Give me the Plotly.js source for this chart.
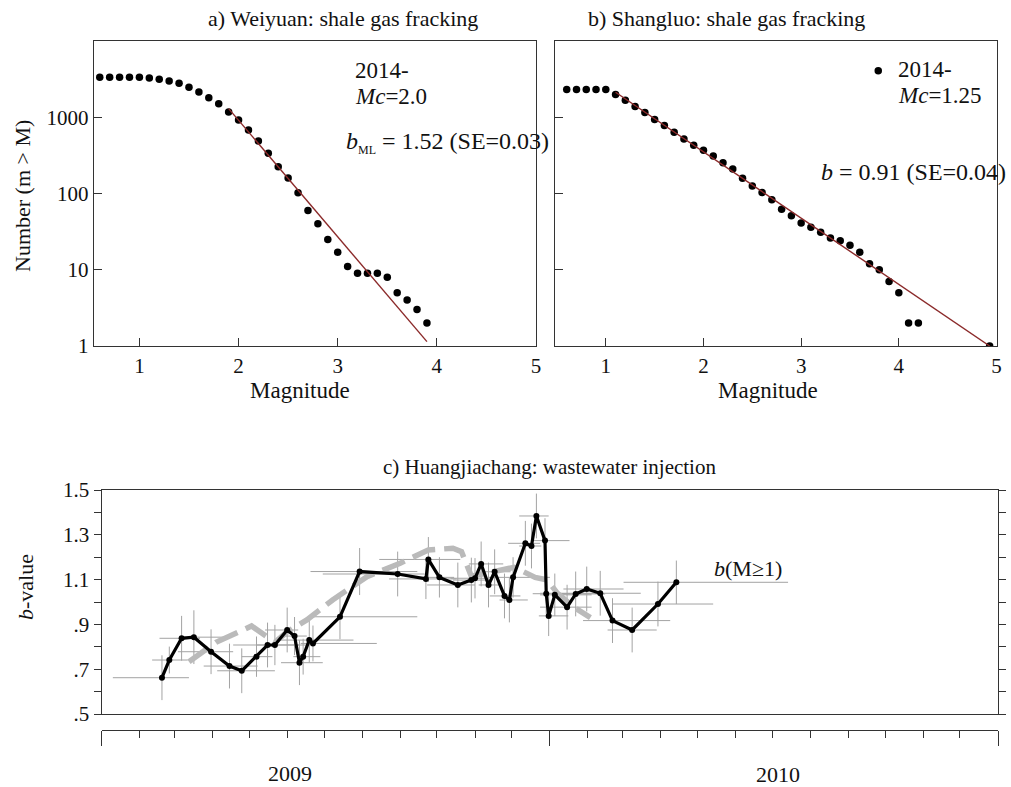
<!DOCTYPE html>
<html><head><meta charset="utf-8">
<script src="https://cdn.plot.ly/plotly-3.0.1.min.js"></script>
<style>body{margin:0;background:#fff}#chart{width:1011px;height:787px}</style>
</head><body><div id="chart"></div>
<script>
// ---- Panel a: Weiyuan ----
const magA = [0.6,0.7,0.8,0.9,1.0,1.1,1.2,1.3,1.4,1.5,1.6,1.7,1.8,1.9,2.0,2.1,2.2,2.3,2.4,2.5,2.6,2.7,2.8,2.9,3.0,3.1,3.2,3.3,3.4,3.5,3.6,3.7,3.8,3.9];
const countA = [3340,3340,3340,3340,3340,3273,3143,2987,2785,2468,2143,1806,1507,1172,921,680,489,336,225,160,102,60,40,25,17,11,9,9,9,8,5,4,3,2];
const fitAMag = [1.9, 3.9];
const fitACount = [1297, 1.14];
// ---- Panel b: Shangluo ----
const magB = [0.6,0.7,0.8,0.9,1.0,1.1,1.2,1.3,1.4,1.5,1.6,1.7,1.8,1.9,2.0,2.1,2.2,2.3,2.4,2.5,2.6,2.7,2.8,2.9,3.0,3.1,3.2,3.3,3.4,3.5,3.6,3.7,3.8,3.9,4.0,4.1,4.2,4.93];
const countB = [2312,2312,2312,2312,2312,1987,1674,1381,1152,931,777,635,519,428,368,310,253,209,159,125,103,83,62,51,41,36,31,26,24,21,17,12,10,7,5,2,2,1];
const fitBMag = [1.1, 4.93];
const fitBCount = [2130, 1];
// ---- Panel c: Huangjiachang b-values ----
const bDates = ['2009-02-19','2009-02-25','2009-03-07','2009-03-17','2009-03-31','2009-04-15','2009-04-25','2009-05-07','2009-05-16','2009-05-22','2009-06-01','2009-06-07','2009-06-11','2009-06-14','2009-06-19','2009-06-22','2009-07-14','2009-07-30','2009-08-30','2009-09-22','2009-09-24','2009-10-03','2009-10-18','2009-10-29','2009-11-01','2009-11-06','2009-11-12','2009-11-17','2009-11-25','2009-11-29','2009-12-02','2009-12-12','2009-12-17','2009-12-21','2009-12-28','2009-12-29','2009-12-31','2010-01-05','2010-01-15','2010-01-22','2010-01-31','2010-02-11','2010-02-21','2010-03-09','2010-03-30','2010-04-14'];
const bValues = [0.662,0.741,0.838,0.843,0.778,0.714,0.693,0.756,0.808,0.808,0.875,0.848,0.729,0.756,0.830,0.815,0.934,1.136,1.125,1.103,1.190,1.110,1.076,1.098,1.106,1.170,1.076,1.135,1.027,1.009,1.110,1.262,1.250,1.384,1.274,1.037,0.938,1.032,0.977,1.036,1.058,1.039,0.917,0.875,0.991,1.088];
const bErrMinusDays = [40,14,18,10,27,21,20,12,28,15,18,10,15,8,24,10,25,40,61,30,40,24,25,15,20,10,8,11,12,8,20,14,10,14,10,11,8,12,22,16,19,49,24,20,37,43];
const bErrPlusDays = [22,15,15,28,18,23,27,13,32,20,9,10,19,14,36,52,63,47,22,25,26,12,14,15,10,18,9,13,13,15,30,12,8,10,20,28,16,30,20,24,30,33,47,20,45,91];
const bErrY = [0.10,0.06,0.10,0.12,0.10,0.10,0.10,0.09,0.10,0.09,0.10,0.085,0.10,0.08,0.10,0.08,0.10,0.105,0.10,0.09,0.10,0.09,0.10,0.10,0.09,0.10,0.10,0.10,0.10,0.10,0.09,0.10,0.10,0.10,0.10,0.09,0.09,0.095,0.10,0.10,0.10,0.10,0.10,0.10,0.10,0.097];
const greyDates = ['2009-03-13','2009-04-04','2009-05-03','2009-05-11','2009-05-22','2009-06-01','2009-06-17','2009-07-08','2009-08-05','2009-09-01','2009-09-24','2009-10-14','2009-10-21','2009-10-29','2009-11-16','2009-12-03','2009-12-20','2009-12-30','2010-01-07','2010-01-21','2010-02-03'];
const greyValues = [0.733,0.820,0.893,0.862,0.820,0.867,0.920,1.009,1.113,1.173,1.232,1.240,1.225,1.115,1.135,1.155,1.110,1.098,1.040,0.975,0.930];
const timeStart = '2009-01-01', timeEnd = '2011-01-01';
const yearLabels = ['2009','2010'];
const logTicks = [1,10,100,1000];
const logTickText = ['1','10','100','1000'];
const magTicks = [1,2,3,4,5];
const bTicks = [0.5,0.7,0.9,1.1,1.3,1.5];
const bTickText = ['.5','.7','.9','1.1','1.3','1.5'];
const bMinorTicks = [0.6,0.8,1.0,1.2,1.4];

const W = 1011, H = 787;
const fx = p => p / W, fy = p => 1 - p / H;
const DAY = 86400000;
const t = s => Date.parse(s + 'T00:00:00Z');
const SERIF = 'Liberation Serif, Times New Roman, serif';
const AX = '#333';

const traces = [
  {x: magA, y: countA, xaxis:'x', yaxis:'y', mode:'markers', marker:{color:'#000', size:7.5}},
  {x: fitAMag, y: fitACount, xaxis:'x', yaxis:'y', mode:'lines', line:{color:'#8b2a2a', width:1.4}},
  {x: magB, y: countB, xaxis:'x2', yaxis:'y2', mode:'markers', marker:{color:'#000', size:7.5}},
  {x: fitBMag, y: fitBCount, xaxis:'x2', yaxis:'y2', mode:'lines', line:{color:'#8b2a2a', width:1.4}},
  {x: bDates.map(t), y: bValues, xaxis:'x3', yaxis:'y3', mode:'markers', marker:{color:'rgba(0,0,0,0)', size:1},
   error_x:{type:'data', symmetric:false, array:bErrPlusDays.map(d=>d*DAY), arrayminus:bErrMinusDays.map(d=>d*DAY), color:'#a3a3a3', thickness:1, width:0},
   error_y:{type:'data', array:bErrY, color:'#a3a3a3', thickness:1, width:0}},
  {x: greyDates.map(t), y: greyValues, xaxis:'x3', yaxis:'y3', mode:'lines', line:{color:'#bababa', width:5.5, dash:'24px,9px'}},
  {x: bDates.map(t), y: bValues, xaxis:'x3', yaxis:'y3', mode:'lines+markers', line:{color:'#000', width:3.2}, marker:{color:'#000', size:6}},
  {x: [timeStart], y: [0.4], xaxis:'x4', yaxis:'y3', mode:'markers', marker:{color:'rgba(0,0,0,0)', size:1}}
];

const boxAxis = {showline:true, linecolor:AX, linewidth:1.3, mirror:true, showgrid:false, zeroline:false,
  ticks:'inside', ticklen:8, tickcolor:AX, tickfont:{family:SERIF, size:21, color:'#111'}};

function ann(text, X, Y, size, extra) {
  return Object.assign({text:text, x:fx(X), y:fy(Y), xref:'paper', yref:'paper', showarrow:false,
    xanchor:'center', yanchor:'middle', font:{family:SERIF, size:size, color:'#111'}}, extra || {});
}

const layout = {
  width: W, height: H, margin:{l:0,r:0,t:0,b:0}, paper_bgcolor:'#fff', plot_bgcolor:'#fff',
  showlegend:false, font:{family:SERIF, color:'#111'},
  xaxis: Object.assign({}, boxAxis, {domain:[fx(94), fx(536)], range:[0.542, 5.0], tickvals:magTicks, anchor:'y'}),
  yaxis: Object.assign({}, boxAxis, {domain:[fy(346), fy(41)], type:'log', range:[0,4], tickvals:logTicks, ticktext:logTickText, anchor:'x'}),
  xaxis2: Object.assign({}, boxAxis, {domain:[fx(555), fx(996.5)], range:[0.48, 5.0], tickvals:magTicks, anchor:'y2'}),
  yaxis2: Object.assign({}, boxAxis, {domain:[fy(346), fy(41)], type:'log', range:[0,4], tickvals:logTicks, showticklabels:false, anchor:'x2'}),
  xaxis3: {domain:[fx(101.8), fx(998)], type:'linear', range:[t(timeStart), t(timeEnd)], anchor:'y3',
    showline:true, linecolor:AX, linewidth:1.3, mirror:true, ticks:'', showticklabels:false, showgrid:false, zeroline:false},
  yaxis3: {domain:[fy(714), fy(490)], range:[0.5,1.5], anchor:'x3', showline:true, linecolor:AX, linewidth:1.3, mirror:'ticks',
    ticks:'outside', ticklen:7, tickcolor:AX, tickvals:bTicks, ticktext:bTickText, showgrid:false, zeroline:false,
    tickfont:{family:SERIF, size:21, color:'#111'},
    minor:{tickvals:bMinorTicks, ticks:'outside', ticklen:7, tickcolor:AX, showgrid:false}},
  xaxis4: {overlaying:'x3', anchor:'free', position:fy(730), side:'bottom', type:'date', range:[timeStart, timeEnd],
    showline:true, linecolor:AX, linewidth:1.3, ticks:'outside', ticklen:15, tickcolor:AX, dtick:'M12', tick0:timeStart,
    showticklabels:false, showgrid:false, zeroline:false,
    minor:{dtick:'M1', tick0:timeStart, ticks:'outside', ticklen:7, tickcolor:AX, showgrid:false}},
  shapes: [
    {type:'circle', xref:'paper', yref:'paper', x0:fx(874.5), x1:fx(882), y0:fy(74.5), y1:fy(67), fillcolor:'#000', line:{width:0}}
  ],
  annotations: [
    ann('a) Weiyuan: shale gas fracking', 343, 18, 22),
    ann('b) Shangluo: shale gas fracking', 726, 18, 22),
    ann('c) Huangjiachang: wastewater injection', 549, 467, 21),
    ann('Number (m > M)', 22, 196, 22, {textangle:-90}),
    ann('Magnitude', 300, 390, 23),
    ann('Magnitude', 768, 390, 23),
    ann('<i>b</i>-value', 25, 587, 22, {textangle:-90}),
    ann('2014-', 353, 70, 23, {xanchor:'left'}),
    ann('<i>Mc</i>=2.0', 353, 96, 23, {xanchor:'left'}),
    ann('<i>b</i><sub><span style="font-size:12px">ML</span></sub> = 1.52 (SE=0.03)', 344, 143, 24, {xanchor:'left'}),
    ann('2014-', 896, 69, 23, {xanchor:'left'}),
    ann('<i>Mc</i>=1.25', 896, 95, 23, {xanchor:'left'}),
    ann('<i>b</i> = 0.91 (SE=0.04)', 819, 172, 24, {xanchor:'left'}),
    ann('<i>b</i>(M≥1)', 712, 568, 22, {xanchor:'left'}),
    ann(yearLabels[0], 290, 773, 22),
    ann(yearLabels[1], 778, 774, 22)
  ]
};
Plotly.newPlot('chart', traces, layout, {displayModeBar:false, staticPlot:true});
</script>
</body></html>
